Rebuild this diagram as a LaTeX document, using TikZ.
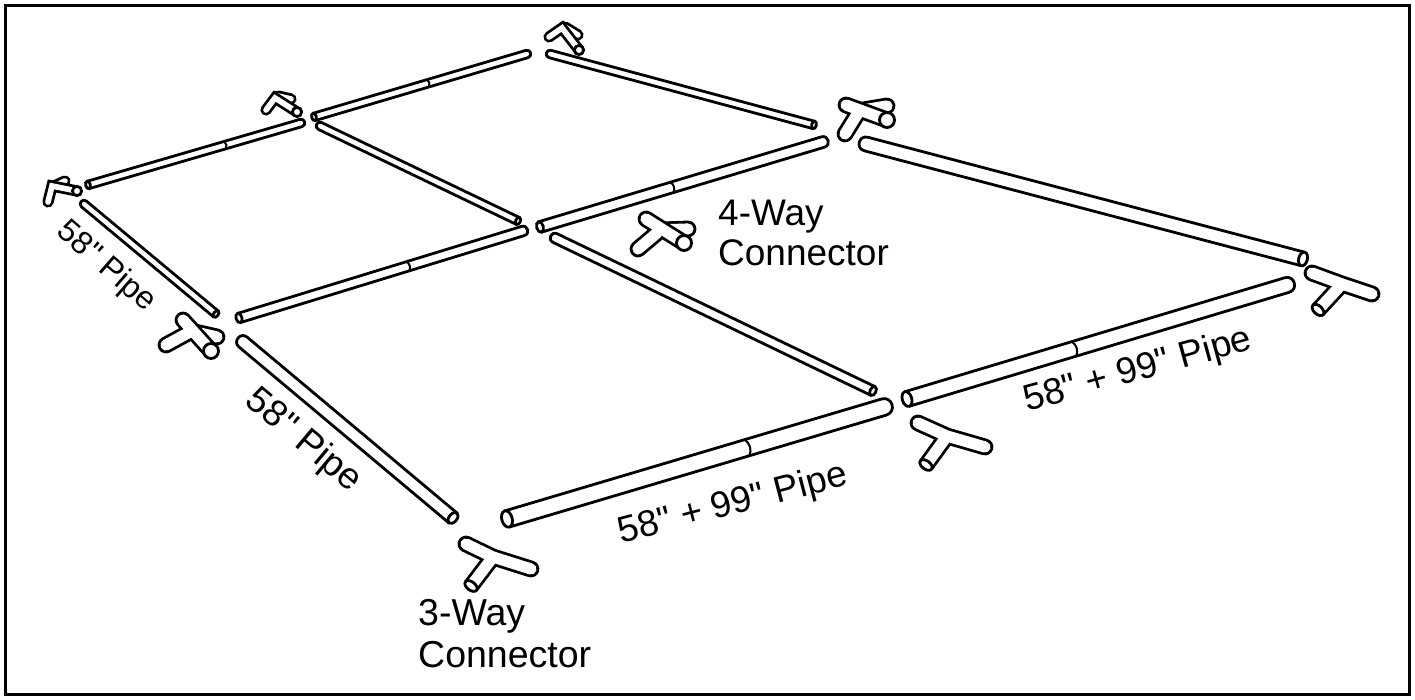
\documentclass[tikz,border=0pt]{standalone}
\usepackage{fontspec}
\newfontfamily\labfont{Liberation Sans}
\tikzset{
  x=1pt,y=-1pt,
  ol/.style={draw=black,line width={(2*#1+2.8)*1pt},line join=miter},
  wh/.style={draw=white,line width={(2*#1-2.8)*1pt},line join=miter},
  rc/.style={line cap=round},
  bc/.style={line cap=butt},
  lab/.style={font=\labfont\fontsize{37}{42}\selectfont,inner sep=0pt,align=left},
  rim/.style={draw=black,fill=white,line width=2.8pt},
  skin/.style={draw=black,line width=2.8pt,line join=round},
}
\newcommand\pipe[6]{%
  \pgfmathsetmacro\pa{atan2(-(#4-#2),#3-#1)}%
  \pgfmathsetmacro\pl{veclen(#3-#1,#4-#2)}%
  \pgfmathsetmacro\pm{(#6-#1)/(#3-#1)*\pl}%
  \begin{scope}[shift={(#1,#2)},rotate=\pa]
    \draw[skin,fill=white] (0,-#5) -- (\pl,-#5) .. controls (\pl+1.33*#5,-#5) and (\pl+1.33*#5,#5) .. (\pl,#5) -- (0,#5) -- cycle;
    \ifdim #6pt>0pt
      \draw[black,line width=2pt] (\pm,-#5) .. controls (\pm+0.5*#5,-0.4*#5) and (\pm+0.5*#5,0.4*#5) .. (\pm,#5);
    \fi
    \draw[rim] (0,0) ellipse [x radius=0.62*#5,y radius=#5];
  \end{scope}}
\newcommand\rimat[6]{%
  \pgfmathsetmacro\pa{atan2(-(#2-#4),#1-#3)}%
  \begin{scope}[shift={(#1,#2)},rotate=\pa]
    \draw[rim] (0,0) ellipse [x radius=#6*#5,y radius=#5];
  \end{scope}}
\newcommand\threeway[8]{%
  \draw[ol=7,rc] (#1,#2) -- (#3,#4) -- (#5,#6);
  \draw[ol=7,bc] (#3,#4) -- (#7,#8);
  \draw[wh=7,rc] (#1,#2) -- (#3,#4) -- (#5,#6);
  \draw[wh=7,bc] (#3,#4) -- (#7,#8);
  \rimat{#7}{#8}{#3}{#4}{7}{0.6}}
\newcommand\fourway[6]{%
  \draw[ol=7,rc] #1 -- #2;
  \draw[wh=7,rc] #1 -- #2;
  \draw[ol=7,rc] #3 -- #4 #5 -- #6;
  \draw[wh=7,rc] #3 -- #4 #5 -- #6;
  \draw[rim] #4 circle [radius=7.5];}
\newcommand\cornerpc[5]{%
  \draw[ol=4.2,rc] #3 -- #4;
  \draw[wh=4.2,rc] #3 -- #4;
  \draw[ol=4.2,rc] #1 -- #2 -- #5;
  \draw[wh=4.2,rc] #1 -- #2 -- #5;
  \draw[rim] #5 circle [radius=4.6];}
\begin{document}
\begin{tikzpicture}
\useasboundingbox (0,0) rectangle (1415,700);
\draw[line width=3pt] (5.5,5.5) rectangle (1409.5,694.5);
% pipes
\pipe{88}{185}{301}{123}{3.8}{225}
\pipe{314}{117}{527}{54}{3.8}{428}
\pipe{814}{125}{550}{54}{3.8}{0}
\pipe{216}{314}{84}{204}{3.8}{0}
\pipe{518}{221}{320}{126}{3.8}{0}
\pipe{239}{318}{523}{231}{4.8}{408}
\pipe{540}{227}{823}{142}{5.4}{672}
\pipe{1303}{259}{866}{144}{7}{0}
\pipe{873}{391}{555}{238}{4.8}{0}
\pipe{453}{518}{243}{342}{6.4}{0}
\pipe{507}{519}{884}{407}{8.4}{747}
\pipe{907}{399}{1287}{285}{7.6}{1074}
% 3-way connectors
\threeway{466}{544}{493}{557}{531}{569}{471}{586}
\threeway{918}{423}{947}{436}{985}{447}{926}{465}
\threeway{1312}{273}{1342}{284}{1372}{294}{1318}{310}
% 4-way connectors
\fourway{(660,230)}{(688,229)}{(646,219)}{(684,243)}{(657,233)}{(638,249)}
\fourway{(863,110)}{(887,106)}{(846,105)}{(887,120)}{(858,113)}{(845,134)}
\fourway{(195,332)}{(217,337)}{(183,320)}{(211,351)}{(188,333)}{(166,345)}
% corners
\cornerpc{(48,202)}{(52,186)}{(54,186)}{(65,181)}{(77,191)}
\cornerpc{(266,110)}{(275,98)}{(278,96)}{(291,99)}{(297,112)}
\cornerpc{(549,37)}{(562,28)}{(565,27)}{(578,35)}{(579,50)}
% labels
\node[lab,anchor=north west] (wayfour) at (718,200) {4-Way\\[-2pt]Connector};
\node[lab,anchor=north west,font=\labfont\fontsize{37.5}{42}\selectfont] (waythree) at (418,599) {3-Way\\Connector};
\node[lab,rotate=-40] (pipeA) at (303,441) {58" Pipe};
\node[lab,rotate=-41,font=\labfont\fontsize{32}{36}\selectfont] (pipeB) at (106,267) {58" Pipe};
\node[lab,rotate=14.6] (pipeC) at (733,505) {58" + 99" Pipe};
\node[lab,rotate=15.5] (pipeD) at (1138,371) {58" + 99" Pipe};
\end{tikzpicture}
\end{document}
